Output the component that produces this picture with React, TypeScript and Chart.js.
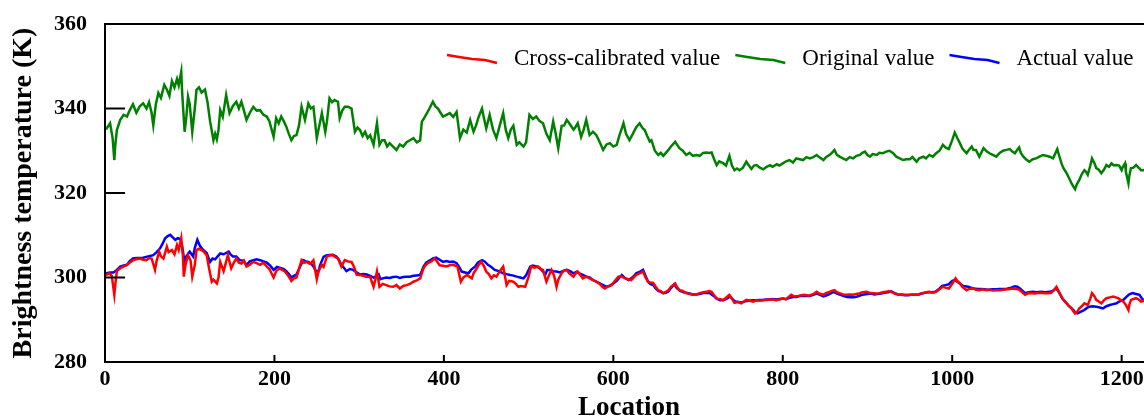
import React, { useEffect, useRef } from "react";
import { Chart, registerables } from "chart.js";

Chart.register(...registerables);

const FONT = "'Times New Roman', 'Liberation Serif', serif";

// ---- Data ----
const legendLabels = ["Cross-calibrated value", "Original value", "Actual value"];
const seriesColors = ["#ff0000", "#008000", "#0000ff"];

const xTitle = "Location";
const yTitle = "Brightness temperature (K)";
const xMin = 0;
const xMax = 1237;
const yMin = 280;
const yMax = 360;
const xTickValues = [0, 200, 400, 600, 800, 1000, 1200];
const yTickValues = [280, 300, 320, 340, 360];

// Original value (green)
const originalLoc = [
  0, 2, 6, 9, 11, 12, 14, 18, 22, 26,
  29, 33, 37, 41, 45, 49, 52, 55, 57, 60,
  63, 66, 70, 73, 76, 79, 82, 85, 87, 90,
  91, 94, 96, 98, 100, 103, 106, 108, 111, 114,
  118, 121, 124, 128, 130, 132, 134, 136, 139, 143,
  145, 147, 151, 155, 158, 161, 164, 167, 171, 175,
  179, 183, 187, 191, 194, 199, 202, 205, 208, 211,
  214, 217, 220, 223, 226, 229, 232, 236, 240, 243,
  246, 250, 252, 256, 260, 262, 265, 268, 271, 275,
  277, 280, 283, 287, 291, 295, 298, 301, 304, 307,
  310, 313, 317, 321, 324, 327, 330, 333, 336, 340,
  344, 348, 352, 356, 360, 364, 368, 372, 374, 376,
  380, 383, 387, 390, 393, 396, 399, 403, 407, 411,
  415, 419, 423, 427, 431, 435, 438, 441, 445, 447,
  450, 454, 458, 462, 466, 470, 473, 476, 479, 482,
  486, 489, 494, 497, 501, 505, 509, 513, 517, 521,
  525, 529, 532, 535, 539, 542, 545, 548, 553, 555,
  558, 562, 565, 568, 572, 576, 580, 584, 588, 592,
  596, 600, 604, 607, 612, 615, 619, 623, 627, 631,
  634, 637, 640, 643, 645, 649, 653, 656, 659, 662,
  665, 668, 673, 675, 678, 682, 686, 690, 694, 698,
  702, 706, 710, 713, 716, 719, 722, 725, 730, 733,
  737, 740, 743, 746, 749, 753, 757, 760, 763, 766,
  769, 773, 777, 781, 785, 788, 793, 796, 800, 804,
  808, 812, 816, 820, 824, 828, 832, 836, 840, 843,
  848, 851, 855, 858, 861, 864, 867, 871, 875, 879,
  883, 887, 891, 894, 897, 900, 903, 906, 911, 914,
  918, 922, 926, 930, 934, 938, 942, 946, 950, 953,
  958, 961, 966, 969, 973, 977, 981, 985, 989, 992,
  996, 1000, 1003, 1006, 1009, 1012, 1017, 1019, 1023, 1025,
  1028, 1032, 1037, 1041, 1044, 1048, 1052, 1056, 1060, 1064,
  1068, 1071, 1074, 1076, 1079, 1081, 1084, 1087, 1091, 1095,
  1099, 1103, 1107, 1111, 1115, 1119, 1122, 1124, 1126, 1129,
  1131, 1135, 1138, 1141, 1145, 1147, 1150, 1153, 1156, 1158,
  1160, 1163, 1165, 1168, 1170, 1173, 1176, 1179, 1182, 1185,
  1188, 1191, 1194, 1197, 1200, 1201, 1204, 1205, 1208, 1209,
  1211, 1214, 1217, 1220, 1223, 1226, 1230, 1237,
];
const originalVal = [
  335.5, 335.3, 336.5, 333, 327.8, 331, 334.9, 337.3, 338.5, 338.1,
  339.5, 341, 339, 340.5, 341.2, 340, 341.5, 339, 336, 341,
  343.7, 342.5, 345.6, 344.5, 343, 346.5, 345, 347, 345.5, 348.7,
  344, 334.5, 338, 342.8, 341, 334.5, 340, 344.4, 345, 343.8,
  344.5, 341.5, 337, 332.5, 334, 332.7, 335, 339.6, 338, 343.2,
  341, 338.9, 340.6, 341.6, 340, 341.6, 339.5, 337.3, 339, 340.4,
  339.5, 339.6, 338.5, 338.1, 337, 333.3, 337.7, 336.5, 338.1, 337,
  335.7, 334, 332.5, 333.5, 333.7, 336, 340.4, 337.3, 341.2, 340,
  340.4, 333, 335, 338.9, 334.5, 337, 342.4, 341.5, 342, 341.6,
  337.7, 339.5, 340.4, 340.4, 340, 334.5, 335.5, 334.9, 333.5, 334.5,
  333, 333.7, 331.4, 336.5, 331.4, 332.5, 332.5, 331, 331.8, 331,
  330.2, 331.5, 331, 332, 332.5, 333, 332, 332.5, 336.9, 337.5,
  338.9, 340, 341.6, 340.5, 340, 339, 338.1, 338.5, 338.9, 338,
  339.2, 333, 335, 334.3, 337.3, 334.5, 336, 338, 340, 338,
  335.3, 338.5, 335, 333, 336, 338.9, 335, 333, 335, 335.9,
  331.4, 332, 331, 332, 338.5, 337.5, 338.1, 337, 336.5, 334,
  332.5, 336.9, 334, 330.6, 335.9, 336, 337.3, 336.5, 335, 335.5,
  336.5, 333.3, 335, 337.3, 333.7, 334.5, 333.7, 332, 330.2, 331.5,
  331.8, 331, 331.4, 333.5, 336.5, 334, 332.5, 334, 335.6, 336.5,
  335.5, 334.9, 333.5, 332.2, 332.5, 330, 329, 329.5, 328.8, 329.5,
  330.2, 331, 332.1, 331.5, 330.6, 330, 329, 329.5, 328.8, 329,
  328.8, 329.5, 329.6, 329.5, 329.6, 328, 326.6, 327.5, 327, 326.5,
  328.8, 326.5, 325.4, 325.8, 325.4, 326, 327.4, 326.5, 325.7, 326.5,
  326.6, 326, 325.6, 326.2, 326.6, 326.2, 326.8, 326.5, 327, 327.5,
  327.8, 327.2, 328.2, 328, 327.8, 328.5, 328.2, 328.5, 329, 328.5,
  327.8, 328.5, 329, 329.5, 330.2, 329, 328.6, 328.2, 327.8, 328.5,
  328.2, 328.8, 329, 329.5, 329.8, 329, 328.6, 329.2, 329, 329.5,
  329.4, 329.8, 330, 329.5, 328.6, 328.2, 327.8, 328, 328, 328.5,
  327.4, 328.2, 328.6, 328.2, 329, 328.6, 329.4, 330, 331.4, 330.8,
  330.4, 332.5, 334.3, 333, 331.8, 330.5, 329.4, 330, 331, 330.2,
  330.2, 328.6, 330.6, 329.8, 329.4, 329, 328.6, 329.5, 330, 330.2,
  330.4, 329.8, 329.4, 330, 330.8, 329.5, 328.6, 328, 327.4, 328,
  328.2, 328.6, 329, 328.8, 328.6, 328.2, 329.5, 330.4, 329, 327,
  326, 324.7, 323.5, 322.2, 320.9, 322, 323.1, 324.5, 325.4, 325,
  324.3, 326.5, 328.2, 327, 325.9, 325.5, 324.7, 325.5, 326.6, 326.2,
  327, 326.5, 326.6, 326.5, 325.4, 326, 327, 325, 322.3, 324,
  325.9, 326, 326.6, 326, 325.4, 325.4, 326, 325.8,
];

// Cross-calibrated value (red)
const calibratedLoc = [
  0, 2, 5, 8, 11, 12, 14, 18, 21, 26,
  29, 33, 37, 41, 45, 49, 52, 55, 59, 61,
  64, 66, 69, 73, 75, 79, 82, 85, 87, 90,
  92, 93, 95, 98, 101, 103, 106, 108, 111, 114,
  117, 120, 123, 126, 128, 132, 134, 136, 140, 142,
  145, 149, 152, 155, 158, 161, 164, 167, 171, 175,
  179, 183, 187, 191, 194, 199, 202, 206, 209, 212,
  216, 220, 223, 226, 229, 232, 235, 238, 242, 246,
  250, 252, 256, 258, 262, 265, 269, 272, 275, 279,
  283, 287, 291, 294, 297, 301, 305, 308, 313, 317,
  319, 321, 324, 328, 332, 336, 340, 344, 348, 352,
  356, 360, 364, 368, 372, 376, 378, 381, 385, 389,
  392, 395, 399, 403, 407, 411, 416, 420, 423, 427,
  430, 433, 435, 439, 441, 444, 447, 450, 453, 456,
  459, 462, 466, 470, 474, 477, 482, 485, 488, 491,
  496, 500, 503, 507, 511, 514, 517, 521, 524, 527,
  530, 533, 535, 539, 541, 545, 548, 553, 555, 558,
  561, 564, 568, 572, 576, 580, 584, 587, 590, 593,
  598, 601, 606, 609, 614, 617, 621, 624, 627, 631,
  635, 638, 641, 644, 647, 650, 653, 656, 659, 662,
  665, 668, 673, 675, 678, 682, 686, 690, 694, 698,
  702, 706, 710, 713, 716, 719, 722, 725, 730, 733,
  737, 740, 743, 747, 751, 754, 757, 761, 765, 769,
  773, 777, 781, 785, 789, 792, 796, 800, 804, 807,
  810, 814, 818, 822, 826, 830, 834, 837, 840, 843,
  848, 851, 855, 858, 861, 864, 867, 871, 875, 879,
  883, 887, 891, 894, 899, 902, 907, 910, 914, 918,
  922, 925, 928, 932, 936, 940, 944, 948, 952, 955,
  960, 963, 966, 969, 973, 977, 981, 985, 989, 992,
  996, 1000, 1004, 1006, 1009, 1012, 1017, 1020, 1025, 1028,
  1032, 1036, 1040, 1044, 1048, 1052, 1056, 1060, 1064, 1068,
  1072, 1075, 1078, 1081, 1086, 1089, 1093, 1097, 1101, 1105,
  1109, 1113, 1117, 1120, 1123, 1125, 1129, 1131, 1135, 1137,
  1141, 1143, 1145, 1148, 1150, 1153, 1156, 1158, 1160, 1163,
  1165, 1168, 1170, 1173, 1176, 1179, 1182, 1186, 1190, 1193,
  1196, 1198, 1202, 1205, 1208, 1209, 1211, 1214, 1217, 1220,
  1223, 1226, 1230, 1237,
];
const calibratedVal = [
  300.5, 300.7, 301, 300.4, 295.9, 298, 301.5, 302.2, 302.5, 303,
  303.5, 304.1, 304.3, 304.5, 304.2, 304.1, 304.6, 304.5, 301.8, 304,
  306.1, 305, 304.5, 307.3, 306, 306.5, 305.5, 307.7, 306.5, 309.3,
  305, 300.2, 303, 305.3, 304, 300.2, 303, 306.5, 306.8, 306.5,
  306, 305.3, 302, 299, 299.5, 298.6, 300, 303.7, 301.5, 303,
  305.3, 302.2, 303.5, 304.5, 303.5, 303.3, 304, 302.6, 303, 303.7,
  303.4, 303, 303.5, 302.6, 302, 300, 301.5, 302.2, 301.8, 301.5,
  300.5, 299.2, 299.8, 300, 302, 304.1, 303.5, 303.7, 303.2, 304.1,
  299.6, 301.5, 303, 302.5, 305, 305.2, 305.3, 304.8, 304.5, 302.6,
  304.1, 303.8, 303.7, 302.5, 300.7, 300.6, 300.4, 300.2, 300.1, 297.8,
  299.5, 301.4, 297.8, 298.5, 298.2, 297.9, 297.8, 298.2, 297.4, 298,
  298.2, 298.5, 299, 299.3, 299.8, 302.2, 302.8, 303.4, 303.8, 304.5,
  303.8, 302.9, 302.8, 302.6, 302.9, 303, 302.6, 299, 300, 300.6,
  300.2, 299.8, 301, 302.2, 303, 303.7, 302.8, 301.4, 300.8, 299.8,
  300.5, 300.2, 301.5, 302.6, 298.2, 299.2, 299, 298.5, 297.8, 298,
  297.8, 300.2, 302.6, 302.3, 302.6, 302, 301.8, 299, 300.5, 301.8,
  300.5, 297.8, 299.5, 301, 301.5, 301.8, 301, 300.2, 300.8, 301.4,
  300.6, 299.8, 300.2, 299.8, 299.4, 299, 298.5, 297.8, 297.4, 297.8,
  298.2, 299, 300.2, 300.3, 299.8, 299.6, 299.4, 300, 300.6, 301,
  301.4, 300, 299, 298.8, 298.7, 297.8, 297, 296.8, 296.3, 296.6,
  297, 297.8, 298.6, 297.8, 297, 296.8, 296.3, 296.1, 295.9, 296,
  296.3, 296.5, 296.6, 296.8, 296.6, 295.8, 295, 294.9, 294.7, 295.2,
  295.9, 295, 294, 294.2, 293.9, 294.3, 294.7, 294.5, 294.3, 294.6,
  294.5, 294.6, 294.7, 294.8, 294.8, 294.6, 294.8, 295, 294.8, 295.4,
  295.9, 295.5, 295.6, 295.8, 295.9, 295.7, 295.9, 296.2, 296.6, 296.2,
  295.9, 296.3, 296.6, 296.8, 297, 296.5, 296.3, 296, 295.9, 296,
  295.9, 296.1, 296.3, 296.5, 296.6, 296.4, 296.3, 296.2, 296.3, 296.5,
  296.6, 296.8, 296.6, 296.2, 295.9, 296, 295.9, 295.9, 295.9, 296,
  295.9, 296.2, 296.3, 296.5, 296.6, 296.4, 296.6, 297.2, 297.8, 297.6,
  297.4, 298.5, 299.8, 299.2, 298.6, 297.8, 297, 297.3, 297.4, 297.1,
  297, 297.2, 297, 297.1, 296.9, 297, 297, 297.1, 297.2, 297.3,
  297.4, 297.3, 297.2, 296.8, 295.9, 296.2, 296.3, 296.2, 296.3, 296.4,
  296.3, 296.3, 296.4, 297, 297.8, 297, 295.5, 294.8, 293.9, 293.4,
  292.7, 292, 291.5, 292, 292.7, 293.2, 293.9, 293.7, 293.5, 295,
  296.3, 295.5, 294.7, 294.3, 293.9, 294.6, 295.1, 295.3, 295.5, 295.3,
  295.1, 294.8, 294.3, 293.5, 292.3, 293.5, 294.7, 294.9, 295.1, 294.8,
  294.3, 294.5, 294.8, 294.6,
];

// Actual value (blue)
const actualLoc = [
  0, 2, 6, 10, 14, 18, 21, 26, 29, 33,
  38, 45, 51, 57, 61, 65, 68, 71, 74, 77,
  80, 83, 86, 89, 91, 94, 96, 100, 104, 106,
  109, 112, 116, 120, 124, 127, 130, 133, 136, 140,
  146, 148, 151, 155, 159, 163, 167, 171, 175, 179,
  183, 187, 191, 195, 199, 203, 208, 211, 214, 217,
  220, 223, 226, 230, 234, 237, 240, 243, 246, 249,
  252, 254, 258, 261, 265, 269, 273, 276, 279, 282,
  285, 289, 293, 297, 301, 305, 309, 313, 317, 320,
  323, 325, 328, 332, 336, 340, 344, 348, 352, 356,
  360, 364, 368, 372, 376, 379, 384, 387, 391, 395,
  399, 403, 407, 411, 415, 418, 421, 425, 429, 432,
  437, 440, 445, 448, 452, 456, 460, 465, 470, 474,
  478, 481, 486, 490, 494, 497, 502, 505, 509, 513,
  517, 520, 522, 525, 529, 533, 537, 540, 545, 549,
  553, 557, 560, 564, 568, 572, 576, 580, 584, 588,
  592, 595, 600, 604, 610, 613, 618, 621, 624, 627,
  631, 635, 638, 641, 644, 647, 650, 653, 656, 659,
  662, 665, 668, 672, 675, 679, 683, 686, 690, 694,
  698, 702, 706, 710, 714, 718, 722, 726, 730, 734,
  738, 741, 744, 748, 752, 756, 760, 764, 768, 772,
  776, 780, 784, 788, 792, 796, 800, 804, 808, 812,
  816, 820, 824, 828, 832, 836, 840, 844, 848, 852,
  856, 860, 864, 868, 872, 876, 880, 884, 888, 892,
  896, 900, 904, 908, 912, 916, 920, 924, 928, 932,
  936, 940, 944, 948, 952, 956, 960, 964, 968, 972,
  976, 980, 984, 988, 992, 996, 1000, 1003, 1006, 1009,
  1013, 1019, 1022, 1026, 1030, 1034, 1038, 1042, 1048, 1052,
  1056, 1060, 1064, 1068, 1074, 1077, 1080, 1086, 1090, 1095,
  1100, 1105, 1110, 1115, 1119, 1123, 1126, 1130, 1135, 1138,
  1143, 1145, 1148, 1152, 1156, 1159, 1162, 1166, 1170, 1174,
  1178, 1182, 1186, 1190, 1194, 1197, 1202, 1205, 1209, 1213,
  1217, 1221, 1225, 1230, 1237,
];
const actualVal = [
  300.8, 301, 301.2, 301.2, 301.8, 302.6, 302.8, 303, 303.8, 304.5,
  304.6, 304.7, 305, 305.3, 306, 306.9, 308, 309.3, 309.8, 310.1,
  309.5, 308.9, 309.3, 309.1, 307.5, 303.5, 305, 306.1, 305, 307,
  308.9, 307.5, 306.5, 305.8, 303.7, 304.5, 304.3, 305, 305.7, 305.5,
  306.1, 305.5, 305, 305, 304.1, 304, 303, 303.8, 304.1, 304.3,
  304.1, 303.8, 303.5, 302.8, 301.8, 302.5, 302.2, 302, 301.5, 300.8,
  300, 300.4, 300.7, 302.5, 304.1, 303.8, 303.7, 303.3, 302.6, 301.5,
  301.5, 303, 304.9, 305.2, 305.3, 305.4, 305, 304.2, 303, 302.3,
  301.5, 302, 301.8, 301.2, 300.7, 300.8, 300.7, 300.4, 300, 300.3,
  300.7, 299.6, 299.8, 300, 299.9, 300.1, 300.2, 299.9, 300.1, 300.2,
  300.2, 300.4, 300.5, 300.6, 302.6, 303.5, 304.1, 304.5, 304.7, 304.2,
  303.7, 303.9, 303.7, 303.8, 303.4, 302.5, 301.4, 301.2, 301, 301.8,
  302.6, 303.5, 304.1, 303.8, 303, 302.5, 301.8, 301.5, 301, 300.8,
  300.6, 300.5, 300.2, 300, 299.8, 300.5, 302.6, 302.8, 302.6, 302.3,
  301.4, 300.8, 301.8, 301.8, 301.5, 301.4, 301.2, 301.5, 301.8, 301.5,
  301, 301.4, 301, 300.6, 300.2, 300, 299.4, 299, 298.6, 298.2,
  297.8, 298, 298.6, 299.2, 300.6, 300, 299.4, 299.8, 300.3, 301,
  301.3, 301.8, 300.4, 299, 298.4, 298.2, 297.4, 296.8, 296.6, 296.3,
  296.4, 296.7, 297.5, 298.4, 297.5, 296.8, 296.5, 296.4, 296.2, 296,
  296, 296.1, 296.3, 296.4, 296.3, 295.7, 295, 294.6, 294.6, 295,
  295.5, 294.8, 294.3, 294.2, 294.1, 294.4, 294.5, 294.6, 294.6, 294.7,
  294.7, 294.8, 294.8, 294.9, 294.8, 294.9, 295, 294.9, 295.2, 295.4,
  295.4, 295.6, 295.6, 295.7, 295.6, 295.9, 296.2, 295.9, 295.5, 295.8,
  296.2, 296.6, 296.2, 295.9, 295.6, 295.4, 295.3, 295.3, 295.5, 295.8,
  296, 296.1, 296.2, 296, 296.1, 296.2, 296.4, 296.5, 296.7, 296.3,
  296, 295.9, 295.8, 295.8, 295.9, 295.9, 296, 296.2, 296.4, 296.5,
  296.5, 296.6, 297.2, 298, 298.2, 298.4, 299.2, 299.4, 299, 298.6,
  298, 297.8, 297.6, 297.4, 297.3, 297.3, 297.2, 297.1, 297.2, 297.2,
  297.3, 297.3, 297.3, 297.5, 297.9, 297.8, 297.4, 296.3, 296.5, 296.6,
  296.5, 296.6, 296.5, 296.6, 296.9, 297.4, 296.5, 295, 293.9, 293.2,
  292.3, 291.8, 291.5, 291.9, 292.3, 292.8, 293.1, 293.2, 293.1, 292.9,
  292.7, 293.2, 293.5, 293.7, 293.9, 294.3, 294.7, 295.3, 296, 296.3,
  296.1, 295.9, 294.7, 295, 295.2,
];

const seriesLocs = [calibratedLoc, originalLoc, actualLoc];
const seriesVals = [calibratedVal, originalVal, actualVal];

// ---- Frame, inward ticks and in-plot legend ----
const framePlugin = {
  id: "matlabFrame",
  afterDatasetsDraw(chart: any) {
    const { ctx, chartArea: a, scales } = chart;
    ctx.save();
    ctx.strokeStyle = "#000";
    ctx.lineWidth = 2;
    ctx.beginPath();
    ctx.rect(a.left, a.top, a.right - a.left, a.bottom - a.top);
    ctx.stroke();

    ctx.beginPath();
    scales.y.ticks.forEach((t: any) => {
      const py = scales.y.getPixelForValue(t.value);
      ctx.moveTo(a.left, py);
      ctx.lineTo(a.left + 20, py);
    });
    scales.x.ticks.forEach((t: any) => {
      const px = scales.x.getPixelForValue(t.value);
      ctx.moveTo(px, a.bottom);
      ctx.lineTo(px, a.bottom - 7);
    });
    ctx.stroke();

    // legend inside the plot
    ctx.font = `23px ${FONT}`;
    ctx.textBaseline = "middle";
    ctx.textAlign = "left";
    let x = a.left + 342;
    const y = a.top + 35;
    legendLabels.forEach((label, i) => {
      ctx.strokeStyle = seriesColors[i];
      ctx.lineWidth = 2.5;
      ctx.beginPath();
      ctx.moveTo(x, y - 4);
      ctx.lineTo(x + 12, y - 2);
      ctx.lineTo(x + 25, y);
      ctx.lineTo(x + 38, y + 1);
      ctx.lineTo(x + 50, y + 4);
      ctx.stroke();
      ctx.fillStyle = "#000";
      const tx = x + 67;
      ctx.fillText(label, tx, y);
      x = tx + ctx.measureText(label).width + 15;
    });
    ctx.restore();
  },
};

export default function App() {
  const ref = useRef<HTMLCanvasElement>(null);

  useEffect(() => {
    if (!ref.current) return;
    const datasets = seriesLocs.map((locs, i) => ({
      label: legendLabels[i],
      data: locs.map((lx, j) => ({ x: lx, y: seriesVals[i][j] })),
      borderColor: seriesColors[i],
      backgroundColor: seriesColors[i],
      borderWidth: 2.5,
      pointRadius: 0,
      tension: 0,
      fill: false,
    }));

    const tickFont = { family: FONT, size: 22, weight: "bold" as const };

    const chart = new Chart(ref.current, {
      type: "line",
      data: { datasets },
      options: {
        animation: false,
        responsive: false,
        devicePixelRatio: 1,
        layout: { padding: { top: 24, right: 12, bottom: 0, left: 0 } },
        plugins: {
          legend: { display: false },
          tooltip: { enabled: false },
        },
        scales: {
          x: {
            type: "linear",
            min: xMin,
            max: xMax,
            grid: { display: false, drawTicks: false },
            border: { display: false },
            afterBuildTicks: (s: any) => {
              s.ticks = xTickValues.map((v) => ({ value: v }));
            },
            ticks: {
              maxRotation: 0,
              autoSkip: false,
              padding: 4,
              color: "#000",
              font: tickFont,
              callback: (v: any) => String(v),
            },
            title: {
              display: true,
              text: xTitle,
              color: "#000",
              font: { family: FONT, size: 27, weight: "bold" as const },
              padding: { top: 0, bottom: 6 },
            },
            afterFit: (s: any) => {
              s.height = 68;
            },
          },
          y: {
            type: "linear",
            min: yMin,
            max: yMax,
            grid: { display: false, drawTicks: false },
            border: { display: false },
            afterBuildTicks: (s: any) => {
              s.ticks = yTickValues.map((v) => ({ value: v }));
            },
            ticks: {
              padding: 18,
              color: "#000",
              font: tickFont,
              callback: (v: any) => String(v),
            },
            title: {
              display: true,
              text: yTitle,
              color: "#000",
              font: { family: FONT, size: 28, weight: "bold" as const },
              padding: { top: 7, bottom: 0 },
            },
            afterFit: (s: any) => {
              s.width = 105;
              s.paddingTop = 0;
              s.paddingBottom = 0;
            },
          },
        },
      },
      plugins: [framePlugin],
    });
    return () => chart.destroy();
  }, []);

  return (
    <div
      style={{
        position: "fixed",
        left: 0,
        top: 0,
        width: 1144,
        height: 417,
        overflow: "hidden",
        background: "#fff",
      }}
    >
      <canvas ref={ref} width={1165} height={430} style={{ display: "block" }} />
    </div>
  );
}
